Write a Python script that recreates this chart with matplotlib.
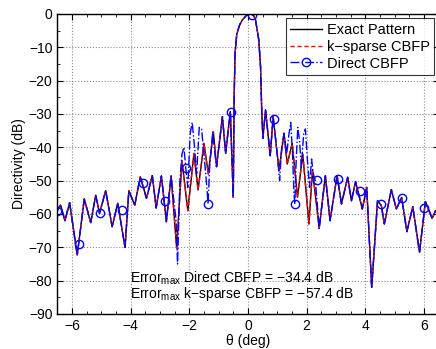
import numpy as np
import matplotlib
matplotlib.use('Agg')
from matplotlib import pyplot as plt

plt.rcParams['font.family'] = ['Liberation Sans', 'DejaVu Sans']

# exact pattern (theta in deg, directivity in dB)
th_exact = [-6.55, -6.50, -6.39, -6.24, -6.08, -5.82, -5.58, -5.36, -5.19, -5.06,
            -4.85, -4.63, -4.44, -4.19, -4.06, -3.86, -3.67, -3.46, -3.26, -3.13,
            -2.95, -2.78, -2.62, -2.43, -2.25, -2.05, -1.84, -1.70, -1.50, -1.35,
            -1.18, -1.07, -0.87, -0.76, -0.60, -0.50, -0.47, -0.44, -0.38, -0.28,
            -0.19, -0.05, 0.10, 0.20, 0.26, 0.37, 0.43, 0.47, 0.51, 0.60,
            0.76, 0.86, 1.06, 1.23, 1.34, 1.51, 1.69, 1.87, 2.08, 2.20,
            2.43, 2.64, 2.80, 3.04, 3.19, 3.40, 3.53, 3.67, 3.90, 4.05,
            4.22, 4.42, 4.55, 4.65, 4.89, 5.06, 5.24, 5.42, 5.62, 5.85,
            6.05, 6.28, 6.40]
db_exact = [-60.0, -59.0, -57.3, -62.0, -56.6, -72.3, -55.5, -62.6, -54.4, -59.8,
            -53.0, -63.8, -56.8, -70.0, -53.0, -57.4, -48.8, -55.3, -48.5, -58.2,
            -48.6, -62.3, -48.5, -70.3, -44.0, -59.0, -41.8, -52.8, -38.8, -48.0,
            -35.3, -45.8, -30.8, -41.8, -29.3, -55.0, -25.0, -12.0, -6.0, -3.2,
            -1.8, -0.4, 0.0, -0.6, -1.8, -7.8, -15.8, -28.8, -37.3, -28.8,
            -42.5, -30.8, -47.0, -35.8, -45.0, -38.8, -55.0, -42.0, -63.0, -46.8,
            -64.3, -48.5, -62.0, -48.5, -57.0, -49.0, -56.0, -50.3, -58.5, -52.0,
            -82.0, -56.0, -57.5, -63.0, -52.7, -58.5, -55.0, -65.3, -57.8, -71.5,
            -56.3, -61.3, -59.0]

# Direct CBFP where it departs from the exact pattern
th_dir_l = [-2.45, -2.40, -2.32, -2.25, -2.18, -2.12, -2.05, -1.97, -1.90, -1.82,
            -1.75, -1.66, -1.58, -1.48, -1.40, -1.36, -1.30, -1.20, -1.10]
db_dir_l = [-62.0, -75.0, -50.0, -42.0, -40.0, -46.3, -52.0, -36.0, -32.5, -40.0,
            -48.0, -34.0, -34.5, -44.0, -52.0, -57.0, -45.0, -35.5, -44.0]
th_dir_r = [1.00, 1.08, 1.15, 1.23, 1.32, 1.40, 1.46, 1.52, 1.57, 1.60,
            1.64, 1.70, 1.76, 1.82, 1.90, 1.96, 2.03, 2.10, 2.17, 2.23, 2.30]
db_dir_r = [-42.0, -50.0, -40.0, -35.8, -42.0, -36.0, -32.5, -42.0, -54.0, -57.0,
            -45.0, -34.0, -38.0, -46.0, -36.0, -34.5, -44.0, -52.0, -43.5, -48.0, -50.0]

# circle markers of Direct CBFP
mk_th = [-6.50, -5.77, -5.05, -4.31, -3.57, -2.84, -2.10, -1.36, -0.59,
         0.15, 0.88, 1.60, 2.34, 3.06, 3.82, 4.55, 5.27, 6.02]
mk_db = [-59.1, -69.0, -59.8, -58.8, -50.6, -56.2, -46.3, -57.0, -29.3,
         -0.3, -31.5, -57.0, -49.8, -49.5, -53.2, -57.1, -55.3, -58.1]

te = np.array(th_exact)
de = np.array(db_exact)
left = te < th_dir_l[0]
mid = (te > th_dir_l[-1]) & (te < th_dir_r[0])
right = te > th_dir_r[-1]
th_direct = np.concatenate([te[left], th_dir_l, te[mid], th_dir_r, te[right]])
db_direct = np.concatenate([de[left], db_dir_l, de[mid], db_dir_r, de[right]])

fig = plt.figure(figsize=(4.36, 3.49), dpi=100)
ax = fig.add_axes([0.1314, 0.1003, 0.8745, 0.8596])

ax.plot(te, de, color='k', lw=1.0, label='Exact Pattern')
ax.plot(te, de, color='r', lw=1.0, ls=(0, (3, 2)), label='k\u2212sparse CBFP')
ax.plot(th_direct, db_direct, color='b', lw=1.0, ls='-.')
ax.plot(mk_th, mk_db, ls='none', marker='o', ms=6, mfc='none', mec='b', mew=1.0)
ax.plot([], [], color='b', lw=1.0, ls='-.', marker='o', ms=6, mfc='none', mec='b',
        label='Direct CBFP')

ax.set_xlim(-6.5, 6.5)
ax.set_ylim(-90, 0)
ax.set_xticks(np.arange(-6, 7, 2))
ax.set_yticks(np.arange(-90, 1, 10))
ax.set_xticks(np.arange(-6.5, 6.6, 0.5), minor=True)
ax.set_yticks(np.arange(-90, 1, 5), minor=True)
ax.tick_params(which='both', direction='in', top=True, right=True, labelsize=10)
ax.tick_params(which='major', length=4)
ax.tick_params(which='minor', length=2)
ax.grid(True, which='major', color='0.55', ls=':', lw=0.8)
for s in ax.spines.values():
    s.set_linewidth(1.0)

ax.set_xlabel('\u03b8 (deg)', fontsize=10, labelpad=1)
ax.set_ylabel('Directivity (dB)', fontsize=10, labelpad=2)

leg = ax.legend(loc='upper right', fontsize=10.5, frameon=True, fancybox=False,
                edgecolor='k', borderaxespad=0.3, handlelength=2.2,
                borderpad=0.3, labelspacing=0.2, handletextpad=0.3)
leg.get_frame().set_linewidth(0.8)

ax.text(-4.02, -80.7, r'Error$\mathregular{_{max}}$ Direct CBFP = \u221234.4 dB'.replace('\\u2212', '\u2212'),
        fontsize=10, va='baseline', ha='left')
ax.text(-4.02, -85.2, r'Error$\mathregular{_{max}}$ k\u2212sparse CBFP = \u221257.4 dB'.replace('\\u2212', '\u2212'),
        fontsize=10, va='baseline', ha='left')

fig.savefig('out.png', dpi=100)
